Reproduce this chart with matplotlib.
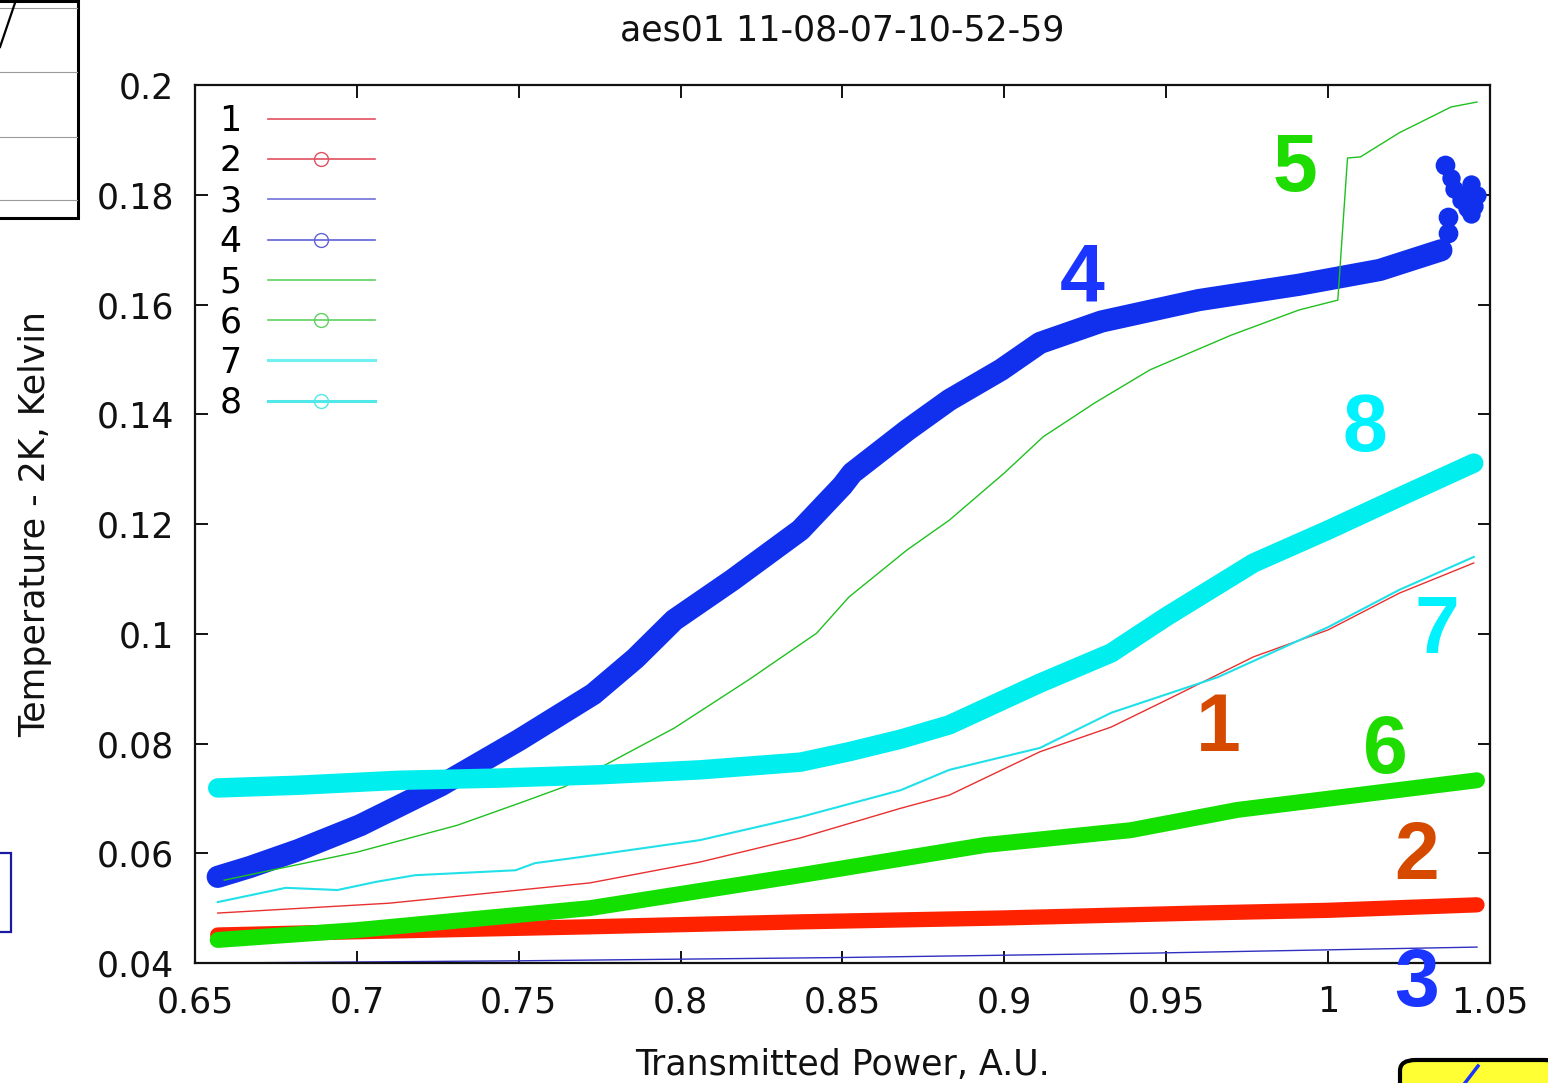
#!/usr/bin/env python3
"""
Recreate the gnuplot temperature vs transmitted power chart (aes01).
"""

import matplotlib
matplotlib.use("Agg")
import matplotlib.pyplot as plt
from matplotlib.lines import Line2D
from matplotlib.patches import Rectangle, FancyBboxPatch

plt.rcParams["font.family"] = ["DejaVu Sans"]

# series 1: red thin
s1_x = [0.657, 0.710, 0.772, 0.806, 0.837, 0.868, 0.883, 0.911, 0.933, 0.950, 0.977, 1.000, 1.022, 1.045]
s1_y = [0.0491, 0.0509, 0.0546, 0.0584, 0.0628, 0.0682, 0.0706, 0.0785, 0.0830, 0.0879, 0.0958, 0.1007, 0.1074, 0.1129]
# series 2: red thick (circles)
s2_x = [0.657, 0.700, 0.772, 0.837, 0.899, 0.960, 1.000, 1.046]
s2_y = [0.0451, 0.0457, 0.0466, 0.0475, 0.0482, 0.0491, 0.0496, 0.0506]
# series 3: blue thin
s3_x = [0.657, 0.750, 0.850, 0.945, 1.046]
s3_y = [0.0400, 0.0404, 0.0410, 0.0418, 0.0429]
# series 4: blue thick (circles)
s4_x = [0.657, 0.667, 0.682, 0.701, 0.726, 0.750, 0.773, 0.786, 0.798, 0.816, 0.837, 0.850,
        0.853, 0.870, 0.883, 0.899, 0.911, 0.930, 0.960, 0.991, 1.016, 1.035]
s4_y = [0.0557, 0.0575, 0.0606, 0.0651, 0.0724, 0.0806, 0.0890, 0.0955, 0.1025, 0.1098, 0.1189, 0.1270,
        0.1293, 0.1371, 0.1426, 0.1481, 0.1530, 0.1569, 0.1608, 0.1636, 0.1663, 0.1699]
# series 4 end cluster
s4c_x = [1.035, 1.037, 1.037, 1.036, 1.038, 1.042, 1.045, 1.044, 1.043, 1.046, 1.041, 1.044, 1.039, 1.043]
s4c_y = [0.1699, 0.1730, 0.1760, 0.1855, 0.1830, 0.1800, 0.1780, 0.1820, 0.1775, 0.1800, 0.1790, 0.1765, 0.1810, 0.1785]
# series 5: green thin
s5_x = [0.659, 0.700, 0.731, 0.751, 0.764, 0.798, 0.821, 0.842, 0.852, 0.870, 0.883, 0.900,
        0.912, 0.928, 0.945, 0.970, 0.991, 1.003, 1.006, 1.010, 1.022, 1.038, 1.046]
s5_y = [0.0551, 0.0602, 0.0651, 0.0693, 0.0721, 0.0828, 0.0916, 0.1001, 0.1067, 0.1153, 0.1207, 0.1293,
        0.1359, 0.1421, 0.1481, 0.1544, 0.1590, 0.1608, 0.1867, 0.1869, 0.1913, 0.1960, 0.1969]
# series 6: green thick (circles)
s6_x = [0.657, 0.700, 0.772, 0.837, 0.894, 0.939, 0.972, 1.005, 1.046]
s6_y = [0.0442, 0.0460, 0.0500, 0.0560, 0.0615, 0.0642, 0.0679, 0.0703, 0.0733]
# series 7: cyan thin
s7_x = [0.657, 0.678, 0.694, 0.706, 0.718, 0.749, 0.755, 0.769, 0.806, 0.837, 0.868, 0.883,
        0.911, 0.933, 0.966, 1.000, 1.022, 1.045]
s7_y = [0.0511, 0.0537, 0.0533, 0.0548, 0.0560, 0.0569, 0.0582, 0.0593, 0.0624, 0.0666, 0.0715, 0.0752,
        0.0792, 0.0856, 0.0921, 0.1012, 0.1080, 0.1140]
# series 8: cyan thick (circles)
s8_x = [0.657, 0.682, 0.713, 0.744, 0.775, 0.806, 0.837, 0.852, 0.868, 0.883, 0.911, 0.933,
        0.950, 0.977, 1.000, 1.022, 1.045]
s8_y = [0.0719, 0.0724, 0.0733, 0.0737, 0.0743, 0.0752, 0.0766, 0.0785, 0.0808, 0.0834, 0.0910, 0.0965,
        0.1031, 0.1129, 0.1189, 0.1249, 0.1311]

x_ticks = [0.65, 0.7, 0.75, 0.8, 0.85, 0.9, 0.95, 1.0, 1.05]
x_tick_labels = ["0.65", "0.7", "0.75", "0.8", "0.85", "0.9", "0.95", "1", "1.05"]
y_ticks = [0.04, 0.06, 0.08, 0.1, 0.12, 0.14, 0.16, 0.18, 0.2]
y_tick_labels = ["0.04", "0.06", "0.08", "0.1", "0.12", "0.14", "0.16", "0.18", "0.2"]

# big annotation numbers: label, x, y, colour
note_labels = ["5", "4", "8", "7", "1", "6", "2", "3"]
note_x = [0.9898, 0.924, 1.0114, 1.0336, 0.966, 1.0176, 1.0274, 1.0274]
note_y = [0.1845, 0.1645, 0.1371, 0.1003, 0.0825, 0.0785, 0.0591, 0.0360]
note_colors = ["#1fdc00", "#1a35ff", "#00f2ff", "#00f2ff", "#d64a00", "#1fdc00", "#d64a00", "#1a35ff"]

RED = "#ff2200"
BLUE = "#1030ee"
GREEN = "#14e000"
CYAN = "#00eeee"
FS = 25


def main():
    fig = plt.figure(figsize=(15.48, 10.83), dpi=100)
    ax = fig.add_axes([0.126, 0.1108, 0.8365, 0.8107])

    ax.plot(s1_x, s1_y, color="#e83030", lw=1.0, zorder=2)
    ax.plot(s2_x, s2_y, color=RED, lw=11, solid_capstyle="round", zorder=2)
    ax.plot(s3_x, s3_y, color="#3030c0", lw=1.0, zorder=2)
    ax.plot(s4_x, s4_y, color=BLUE, lw=16, solid_capstyle="round", solid_joinstyle="round", zorder=2)
    ax.plot(s4c_x, s4c_y, color=BLUE, lw=0, marker="o", ms=12, mfc=BLUE,
            mec=BLUE, mew=1.2, zorder=2)
    ax.plot(s4c_x[:4], s4c_y[:4], color=BLUE, lw=0, marker="o", ms=13, mfc="none",
            mec=BLUE, mew=1.2, zorder=2)
    ax.plot(s5_x, s5_y, color="#20c020", lw=1.0, zorder=2)
    ax.plot(s6_x, s6_y, color=GREEN, lw=11.5, solid_capstyle="round", solid_joinstyle="round", zorder=2)
    ax.plot(s7_x, s7_y, color="#20e0e8", lw=1.5, zorder=2)
    ax.plot(s8_x, s8_y, color=CYAN, lw=14, solid_capstyle="round", solid_joinstyle="round", zorder=2)

    ax.set_xlim(0.65, 1.05)
    ax.set_ylim(0.04, 0.2)
    ax.set_xticks(x_ticks)
    ax.set_xticklabels(x_tick_labels)
    ax.set_yticks(y_ticks)
    ax.set_yticklabels(y_tick_labels)
    ax.tick_params(direction="in", length=9, width=1.4, top=True, right=True,
                   labelsize=FS, colors="#111111")
    ax.tick_params(axis="x", pad=16)
    ax.tick_params(axis="y", pad=15)
    for sp in ax.spines.values():
        sp.set_linewidth(1.6)
        sp.set_color("#111111")

    ax.set_title("aes01 11-08-07-10-52-59", fontsize=FS, pad=32, color="#111111")
    ax.set_xlabel("Transmitted Power, A.U.", fontsize=FS, labelpad=21, color="#111111")
    ax.set_ylabel("Temperature - 2K, Kelvin", fontsize=FS, labelpad=32, color="#111111")

    # legend, gnuplot style
    key_styles = [("#e05060", None), ("#e05060", "o"), ("#7070d8", None), ("#6060d8", "o"),
                  ("#60d060", None), ("#60d060", "o"), ("#70f0f0", None), ("#50e8e8", "o")]
    handles = []
    for i, (c, m) in enumerate(key_styles):
        handles.append(Line2D([], [], color=c, lw=1.2 if i < 6 else 2.2, marker=m, ms=10,
                              mfc="none", mec=c, mew=1.0, label=str(i + 1)))
    ax.legend(handles=handles, loc="upper left", bbox_to_anchor=(0.004, 1.0), frameon=False,
              fontsize=FS, markerfirst=False, handlelength=3.1, handletextpad=0.75,
              labelspacing=0.18, borderaxespad=0.25, borderpad=0.3)

    for lab, x, y, c in zip(note_labels, note_x, note_y, note_colors):
        ax.text(x, y, lab, color=c, fontsize=58, fontweight="bold",
                family=["Liberation Sans", "DejaVu Sans"], ha="center", va="center",
                clip_on=False, zorder=5)

    # cropped neighbouring fragments around the chart
    W, H = 1548.0, 1083.0
    fig.add_artist(Rectangle((-0.01, 1 - 218 / H), 78 / W + 0.01, 0.2, transform=fig.transFigure,
                             fill=False, ec="black", lw=2.2))
    for yy in [8, 72, 137, 200]:
        fig.add_artist(Line2D([0, 77 / W], [1 - yy / H, 1 - yy / H], transform=fig.transFigure,
                              color="#9a9a9a", lw=0.8))
    fig.add_artist(Line2D([0, 16 / W], [1 - 47 / H, 1.0], transform=fig.transFigure,
                          color="black", lw=1.6))
    fig.add_artist(Rectangle((-0.01, 1 - 932 / H), 11 / W + 0.01, 79 / H, transform=fig.transFigure,
                             fill=False, ec="#1a1aa0", lw=1.6))
    fig.add_artist(FancyBboxPatch((1400 / W, 1 - 1100 / H), 160 / W, 40 / H,
                                  boxstyle="round,pad=0,rounding_size=0.01",
                                  transform=fig.transFigure, fc="#ffff33", ec="black", lw=3))
    fig.add_artist(Line2D([1465 / W, 1478 / W], [1 - 1083 / H, 1 - 1066 / H],
                          transform=fig.transFigure, color="#1a35ff", lw=2.5))

    fig.savefig("out.png", dpi=100, facecolor="white")
    plt.close(fig)


if __name__ == "__main__":
    main()
